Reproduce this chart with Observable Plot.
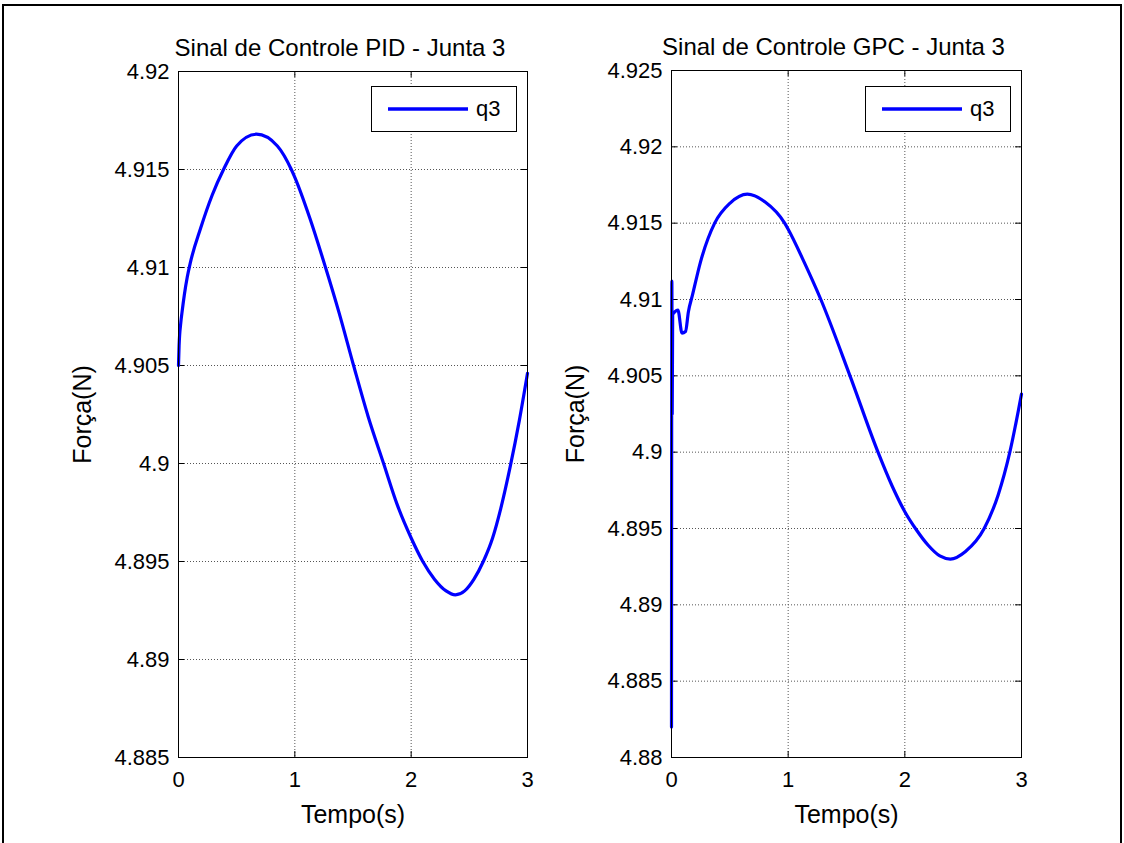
<!DOCTYPE html>
<html><head><meta charset="utf-8">
<script src="https://cdn.jsdelivr.net/npm/d3@7"></script>
<script src="https://cdn.jsdelivr.net/npm/@observablehq/plot@0.6"></script>
<style>
body{margin:0;background:#fff;}
#page{position:relative;width:1124px;height:843px;overflow:hidden;font-family:"Liberation Sans",Arial,sans-serif;background:#fff;}
#border{position:absolute;left:2px;top:4px;width:1116px;height:840px;border:2px solid #000;}
.panel{position:absolute;top:0;}
.legend{position:absolute;top:86px;width:144px;height:44px;border:1px solid #000;background:#fff;}
.legend svg{position:absolute;left:15px;top:0;}
.legend span{position:absolute;left:104px;top:9px;font-size:22px;color:#000;}
</style></head>
<body><div id="page"><div id="border"></div></div>
<script>
// ---- data ----
const pidTime  = [0, 0.005, 0.02, 0.03, 0.05, 0.075, 0.1, 0.19, 0.29, 0.387, 0.5, 0.67, 0.85, 0.97, 1.0, 1.13, 1.264, 1.38, 1.505, 1.63, 1.763, 1.88, 2.0, 2.1, 2.2, 2.3, 2.38, 2.46, 2.54, 2.62, 2.7, 2.77, 2.85, 2.93, 3.0];
const pidForce = [4.905, 4.906, 4.9072, 4.9077, 4.9086, 4.9095, 4.9102, 4.912, 4.9137, 4.915, 4.9162, 4.9168, 4.9162, 4.915, 4.9146, 4.9125, 4.910, 4.9077, 4.905, 4.9024, 4.900, 4.8979, 4.8962, 4.8950, 4.8941, 4.8935, 4.8933, 4.8935, 4.8941, 4.895, 4.8962, 4.8977, 4.8998, 4.9022, 4.9046];

const gpcTime  = [0, 0.003, 0.006, 0.01, 0.03, 0.055, 0.09, 0.12, 0.145, 0.18, 0.25, 0.37, 0.5, 0.65, 0.8, 0.97, 1.0, 1.14, 1.28, 1.53, 1.77, 1.89, 2.0, 2.1, 2.2, 2.3, 2.39, 2.52, 2.68, 2.8, 2.9, 3.0];
const gpcForce = [4.882, 4.9112, 4.9025, 4.909, 4.9092, 4.9093, 4.9078, 4.9079, 4.9092, 4.9103, 4.9125, 4.915, 4.9163, 4.9169, 4.9164, 4.915, 4.9146, 4.9124, 4.910, 4.905, 4.900, 4.8978, 4.8961, 4.8949, 4.8939, 4.8932, 4.8930, 4.8935, 4.895, 4.8972, 4.900, 4.9038];

const timeTicks = [0, 1, 2, 3];
const pidForceTicks = [4.885, 4.89, 4.895, 4.9, 4.905, 4.91, 4.915, 4.92];
const gpcForceTicks = [4.88, 4.885, 4.89, 4.895, 4.9, 4.905, 4.91, 4.915, 4.92, 4.925];
const titles = ["Sinal de Controle PID - Junta 3", "Sinal de Controle GPC - Junta 3"];
const xLabel = "Tempo(s)";
const yLabel = "Força(N)";
const seriesName = "q3";

const W = 562, H = 843;
const fmt = d => String(Math.round(d * 1000) / 1000);

function panel({time, force, yTicks, title, ml, mr, mt, mb}) {
  const iw = W - ml - mr, ih = H - mt - mb;
  const rows = time.map((t, i) => ({t, f: force[i]}));
  const grid = {stroke: "#555", strokeOpacity: 1, strokeWidth: 1, strokeDasharray: "1,2"};
  return Plot.plot({
    width: W, height: H,
    marginLeft: ml, marginRight: mr, marginTop: mt, marginBottom: mb,
    style: {fontFamily: '"Liberation Sans", Arial, sans-serif', background: "transparent", color: "#000", overflow: "visible"},
    x: {domain: [0, 3]},
    y: {domain: [yTicks[0], yTicks[yTicks.length - 1]]},
    marks: [
      Plot.gridX(timeTicks.slice(1, -1), grid),
      Plot.gridY(yTicks.slice(1, -1), grid),
      Plot.tickY(yTicks, {y: d => d, stroke: "#000", insetRight: iw - 6}),
      Plot.tickY(yTicks, {y: d => d, stroke: "#000", insetLeft: iw - 6}),
      Plot.tickX(timeTicks, {x: d => d, stroke: "#000", insetTop: ih - 6}),
      Plot.tickX(timeTicks, {x: d => d, stroke: "#000", insetBottom: ih - 6}),
      Plot.axisY(yTicks, {anchor: "left", tickSize: 0, tickPadding: 9, fontSize: 22, label: null, tickFormat: fmt}),
      Plot.axisX(timeTicks, {anchor: "bottom", tickSize: 0, tickPadding: 14, fontSize: 22, label: null, tickFormat: fmt}),
      Plot.line(rows, {x: "t", y: "f", stroke: "#0000ff", strokeWidth: 3.2, curve: "monotone-x"}),
      Plot.frame({stroke: "#000", strokeWidth: 1}),
      Plot.text([title], {text: d => d, frameAnchor: "top", dx: -13, dy: -33, fontSize: 24, fill: "#000"}),
      Plot.text([xLabel], {text: d => d, frameAnchor: "bottom", dy: 65, fontSize: 25, fill: "#000"}),
      Plot.text([yLabel], {text: d => d, frameAnchor: "left", textAnchor: "middle", dx: -96, rotate: -90, fontSize: 25, fill: "#000"})
    ]
  });
}

const page = document.getElementById("page");
const specs = [
  {time: pidTime, force: pidForce, yTicks: pidForceTicks, title: titles[0], ml: 178, mr: 35, mt: 71, mb: 86, left: 0, legendLeft: 371},
  {time: gpcTime, force: gpcForce, yTicks: gpcForceTicks, title: titles[1], ml: 109, mr: 103, mt: 70, mb: 86, left: 562, legendLeft: 865}
];
for (const s of specs) {
  const div = document.createElement("div");
  div.className = "panel";
  div.style.left = s.left + "px";
  div.appendChild(panel(s));
  page.appendChild(div);
  const lg = document.createElement("div");
  lg.className = "legend";
  lg.style.left = s.legendLeft + "px";
  lg.innerHTML = '<svg width="82" height="44"><line x1="1" x2="81" y1="22" y2="22" stroke="#0000ff" stroke-width="3.5"/></svg><span></span>';
  lg.querySelector("span").textContent = seriesName;
  page.appendChild(lg);
}
</script>
</body></html>
